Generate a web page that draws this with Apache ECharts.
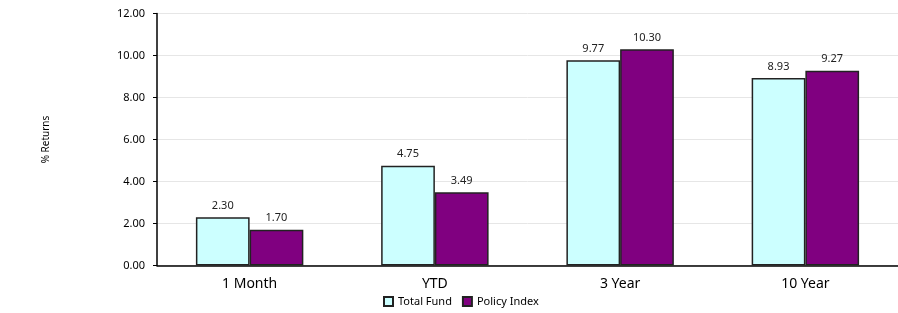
<!DOCTYPE html>
<html>
<head>
<meta charset="utf-8">
<script src="https://cdn.jsdelivr.net/npm/echarts@6/dist/echarts.min.js"></script>
<style>
html, body { margin: 0; padding: 0; background: #fff; }
#chart { width: 898px; height: 313px; }
</style>
</head>
<body>
<div id="chart"></div>
<script>
// 数据
var categories = ['1 Month', 'YTD', '3 Year', '10 Year'];
var totalFund = [2.30, 4.75, 9.77, 8.93];
var policyIndex = [1.70, 3.49, 10.30, 9.27];
var seriesNames = ['Total Fund', 'Policy Index'];

var chart = echarts.init(document.getElementById('chart'));
var font = 'Noto Sans, sans-serif';

chart.setOption({
	animation: false,
	grid: { left: 157, right: -3, top: 13.5, bottom: 47.5 },
	legend: {
		data: seriesNames,
		icon: 'rect',
		bottom: 1,
		left: 378,
		itemWidth: 9,
		itemHeight: 9,
		itemGap: 10,
		textStyle: { fontFamily: font, fontSize: 11, color: '#000' }
	},
	xAxis: {
		type: 'category',
		data: categories,
		axisLine: { lineStyle: { color: '#000', width: 1.5 } },
		axisTick: { show: false },
		axisLabel: { fontFamily: font, fontSize: 14, color: '#000', margin: 12 }
	},
	yAxis: {
		type: 'value',
		min: 0,
		max: 12,
		interval: 2,
		name: '% Returns',
		nameLocation: 'middle',
		nameGap: 106,
		nameTextStyle: { fontFamily: font, fontSize: 10, color: '#000' },
		axisLine: { show: true, lineStyle: { color: '#000', width: 1.5 } },
		axisTick: { show: true, length: 4, lineStyle: { color: '#000' } },
		axisLabel: {
			fontFamily: font, fontSize: 11, color: '#000', margin: 12,
			formatter: function (v) { return v.toFixed(2); }
		},
		splitLine: { lineStyle: { color: '#e6e6e6' } }
	},
	series: [{
		name: seriesNames[0],
		type: 'bar',
		data: totalFund,
		barGap: '0%',
		barCategoryGap: '42%',
		itemStyle: { color: '#ccffff', borderColor: '#222', borderWidth: 1.5 },
		label: {
			show: true, position: 'top', distance: 6,
			fontFamily: font, fontSize: 11, color: '#222',
			formatter: function (p) { return p.value.toFixed(2); }
		}
	}, {
		name: seriesNames[1],
		type: 'bar',
		data: policyIndex,
		barGap: '0%',
		barCategoryGap: '42%',
		itemStyle: { color: '#800080', borderColor: '#222', borderWidth: 1.5 },
		label: {
			show: true, position: 'top', distance: 6,
			fontFamily: font, fontSize: 11, color: '#222',
			formatter: function (p) { return p.value.toFixed(2); }
		}
	}]
});
</script>
</body>
</html>
